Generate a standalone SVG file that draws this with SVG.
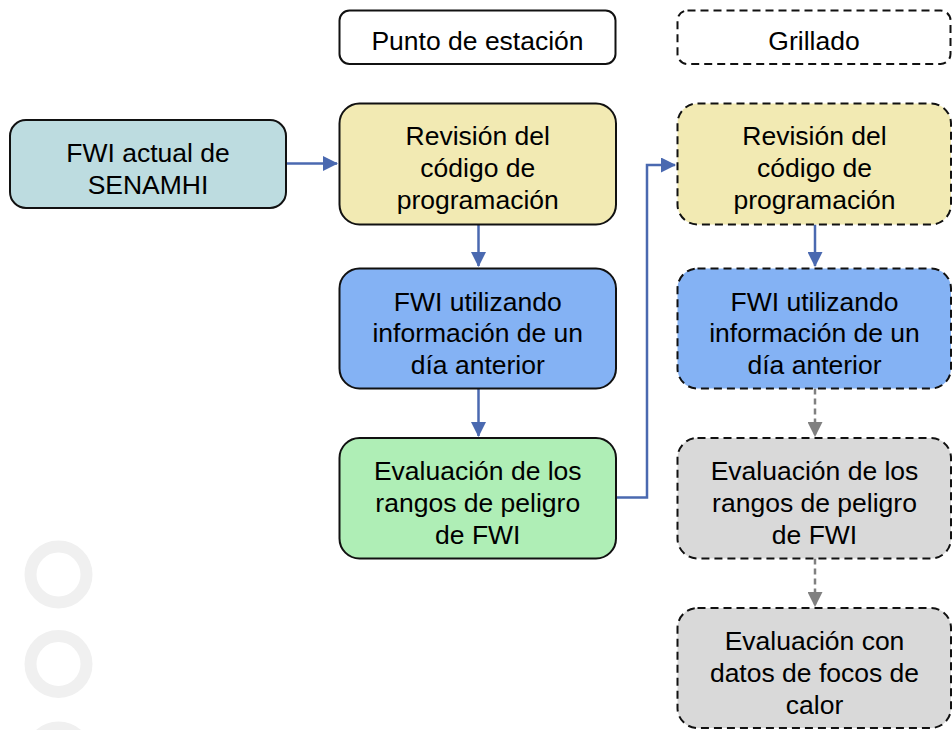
<svg xmlns="http://www.w3.org/2000/svg" width="952" height="730" viewBox="0 0 952 730">
<style>
  text { font-family: "Liberation Sans", Arial, sans-serif; font-size: 26.5px; fill: #000; text-anchor: middle; }
  .box { stroke: #111; stroke-width: 2; }
  .dash { stroke-dasharray: 8 5; }
  .teal { fill: #BDDCE0; }
  .yellow { fill: #F2EAB3; }
  .blue { fill: #84B2F4; }
  .green { fill: #AFEEB6; }
  .gray { fill: #D9D9D9; }
  .white { fill: #FFFFFF; }
  .conn { fill: none; stroke: #4A69B0; stroke-width: 2.5; }
  .conn-gray { fill: none; stroke: #808080; stroke-width: 2.5; stroke-dasharray: 6 4; }
  .deco { fill: none; stroke: #F0F0F0; stroke-width: 12; }
</style>
<defs>
  <marker id="ah" markerWidth="6" markerHeight="6" refX="5.6" refY="3" orient="auto" markerUnits="strokeWidth" viewBox="0 0 6 6">
    <path d="M0,0 L6,3 L0,6 z" fill="#4A69B0"/>
  </marker>
  <marker id="ahg" markerWidth="6" markerHeight="6" refX="5.6" refY="3" orient="auto" markerUnits="strokeWidth" viewBox="0 0 6 6">
    <path d="M0,0 L6,3 L0,6 z" fill="#808080"/>
  </marker>
</defs>

<g id="decoration">
  <circle class="deco" cx="58.5" cy="574.5" r="28"/>
  <circle class="deco" cx="58.5" cy="664" r="28"/>
  <circle class="deco" cx="58.5" cy="755.5" r="28"/>
</g>

<g id="connectors">
  <path class="conn" d="M286,163.5 H337" marker-end="url(#ah)"/>
  <path class="conn" d="M478.5,224.5 V266" marker-end="url(#ah)"/>
  <path class="conn" d="M478.5,388.5 V436" marker-end="url(#ah)"/>
  <path class="conn" d="M616,497.5 H647 V165 H675" marker-end="url(#ah)"/>
  <path class="conn" d="M815,224.5 V266" marker-end="url(#ah)"/>
  <path class="conn-gray" d="M815,388.5 V436" marker-end="url(#ahg)"/>
  <path class="conn-gray" d="M815,558.5 V606" marker-end="url(#ahg)"/>
</g>

<g id="header-punto">
  <rect class="box white" x="339.5" y="10.5" width="276" height="53.5" rx="10"/>
  <text x="477.5" y="49.5">Punto de estación</text>
</g>
<g id="header-grillado">
  <rect class="box white dash" x="677.5" y="10.5" width="273" height="53.5" rx="10"/>
  <text x="814" y="49.5">Grillado</text>
</g>

<g id="fwi-actual">
  <rect class="box teal" x="10" y="120" width="276" height="88" rx="16"/>
  <text x="148" y="162">FWI actual de</text>
  <text x="148" y="193.5">SENAMHI</text>
</g>

<g id="revision-1">
  <rect class="box yellow" x="339.5" y="103.5" width="276.5" height="121" rx="20"/>
  <text x="477.75" y="144.5">Revisión del</text>
  <text x="477.75" y="176.5">código de</text>
  <text x="477.75" y="208.5">programación</text>
</g>
<g id="fwi-dia-1">
  <rect class="box blue" x="339.5" y="268.5" width="276.5" height="120" rx="20"/>
  <text x="477.75" y="310.5">FWI utilizando</text>
  <text x="477.75" y="342">información de un</text>
  <text x="477.75" y="374">día anterior</text>
</g>
<g id="evaluacion-1">
  <rect class="box green" x="339.5" y="438" width="276.5" height="120.5" rx="20"/>
  <text x="477.75" y="480">Evaluación de los</text>
  <text x="477.75" y="511.5">rangos de peligro</text>
  <text x="477.75" y="543.5">de FWI</text>
</g>

<g id="revision-2">
  <rect class="box yellow dash" x="677.5" y="103.5" width="273.5" height="121" rx="20"/>
  <text x="814.5" y="144.5">Revisión del</text>
  <text x="814.5" y="176.5">código de</text>
  <text x="814.5" y="208.5">programación</text>
</g>
<g id="fwi-dia-2">
  <rect class="box blue dash" x="677.5" y="268.5" width="273.5" height="120" rx="20"/>
  <text x="814.5" y="310.5">FWI utilizando</text>
  <text x="814.5" y="342">información de un</text>
  <text x="814.5" y="374">día anterior</text>
</g>
<g id="evaluacion-2">
  <rect class="box gray dash" x="677.5" y="438" width="273.5" height="120.5" rx="20"/>
  <text x="814.5" y="480">Evaluación de los</text>
  <text x="814.5" y="511.5">rangos de peligro</text>
  <text x="814.5" y="543.5">de FWI</text>
</g>
<g id="evaluacion-focos">
  <rect class="box gray dash" x="677.5" y="608" width="273.5" height="120" rx="20"/>
  <text x="814.5" y="650">Evaluación con</text>
  <text x="814.5" y="681.5">datos de focos de</text>
  <text x="814.5" y="713.5">calor</text>
</g>
</svg>
